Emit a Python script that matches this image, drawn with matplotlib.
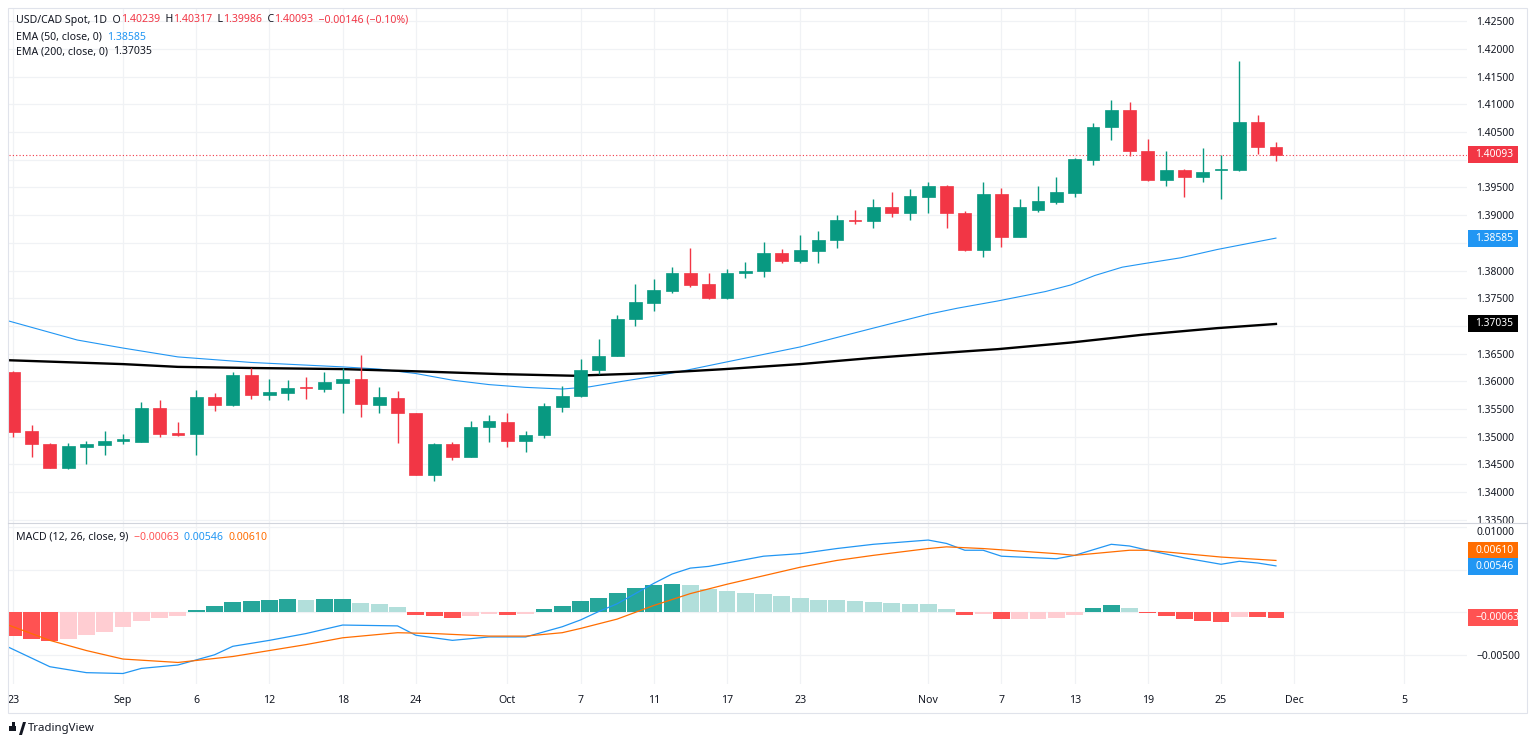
import numpy as np
import matplotlib.pyplot as plt
from matplotlib.patches import Rectangle
from matplotlib.transforms import blended_transform_factory

plt.rcParams['font.family'] = ['Noto Sans', 'DejaVu Sans']

## daily candles, Aug 23 .. Nov 28 (trading days only)
opens = [1.3616, 1.3510, 1.3487, 1.3443, 1.3482, 1.3485, 1.3493, 1.3491, 1.3551, 1.3507,
         1.3504, 1.3572, 1.3557, 1.3611, 1.3575, 1.3578, 1.3589, 1.3586, 1.3597, 1.3604,
         1.3557, 1.3570, 1.3542, 1.3431, 1.3486, 1.3464, 1.3518, 1.3526, 1.3492, 1.3503,
         1.3554, 1.3573, 1.3620, 1.3646, 1.3712, 1.3741, 1.3763, 1.3796, 1.3775, 1.3750,
         1.3796, 1.3799, 1.3832, 1.3818, 1.3835, 1.3855, 1.3892, 1.3890, 1.3915, 1.3903,
         1.3933, 1.3953, 1.3903, 1.3837, 1.3939, 1.3861, 1.3910, 1.3924, 1.3940, 1.4000,
         1.4059, 1.4090, 1.4015, 1.3964, 1.3982, 1.3968, 1.3982, 1.3982, 1.4068, 1.40239]
highs = [1.3618, 1.3521, 1.3489, 1.3489, 1.3492, 1.3510, 1.3504, 1.3563, 1.3566, 1.3526,
         1.3584, 1.3578, 1.3616, 1.3624, 1.3604, 1.3602, 1.3608, 1.3617, 1.3624, 1.3648,
         1.3590, 1.3583, 1.3543, 1.3488, 1.3490, 1.3528, 1.3540, 1.3542, 1.3510, 1.3560,
         1.3592, 1.3640, 1.3676, 1.3719, 1.3776, 1.3785, 1.3806, 1.3840, 1.3795, 1.3803,
         1.3815, 1.3852, 1.3838, 1.3864, 1.3871, 1.3900, 1.3909, 1.3930, 1.3941, 1.3947,
         1.3960, 1.3955, 1.3907, 1.3960, 1.3949, 1.3930, 1.3953, 1.3969, 1.4004, 1.4066,
         1.4107, 1.4104, 1.4037, 1.4016, 1.3983, 1.4022, 1.4009, 1.4179, 1.4080, 1.40317]
lows = [1.3499, 1.3464, 1.3443, 1.3442, 1.3451, 1.3467, 1.3486, 1.3490, 1.3500, 1.3502,
        1.3467, 1.3547, 1.3556, 1.3568, 1.3566, 1.3566, 1.3568, 1.3581, 1.3542, 1.3535,
        1.3543, 1.3488, 1.3431, 1.3420, 1.3458, 1.3463, 1.3491, 1.3482, 1.3473, 1.3498,
        1.3545, 1.3572, 1.3613, 1.3645, 1.3699, 1.3727, 1.3759, 1.3771, 1.3749, 1.3749,
        1.3787, 1.3789, 1.3814, 1.3814, 1.3814, 1.3840, 1.3884, 1.3877, 1.3897, 1.3891,
        1.3904, 1.3877, 1.3836, 1.3825, 1.3843, 1.3860, 1.3906, 1.3920, 1.3932, 1.3990,
        1.4035, 1.4006, 1.3962, 1.3953, 1.3933, 1.3959, 1.3929, 1.3980, 1.4010, 1.39986]
closes = [1.3509, 1.3486, 1.3443, 1.3483, 1.3486, 1.3493, 1.3495, 1.3551, 1.3505, 1.3503,
          1.3572, 1.3558, 1.3611, 1.3575, 1.3581, 1.3588, 1.3587, 1.3598, 1.3605, 1.3559,
          1.3571, 1.3542, 1.3431, 1.3486, 1.3464, 1.3518, 1.3528, 1.3492, 1.3503, 1.3555,
          1.3574, 1.3620, 1.3646, 1.3712, 1.3743, 1.3764, 1.3796, 1.3774, 1.3750, 1.3796,
          1.3800, 1.3832, 1.3818, 1.3837, 1.3855, 1.3891, 1.3890, 1.3915, 1.3904, 1.3935,
          1.3953, 1.3903, 1.3837, 1.3939, 1.3861, 1.3915, 1.3925, 1.3941, 1.4001, 1.4060,
          1.4090, 1.4015, 1.3964, 1.3981, 1.3968, 1.3978, 1.3984, 1.4068, 1.40239, 1.40093]

## EMA lines (bar index, price)
ema50_x = [-0.26, 3.5, 6, 9, 13, 18, 20, 22, 24, 26, 28, 30, 31.5, 33.3, 35.2, 36.5, 39, 43,
           47, 50, 51.6, 53.8, 56.4, 57.8, 59.1, 60.6, 61.7, 63.8, 65.8, 69]
ema50_y = [1.3709, 1.36745, 1.3660, 1.3644, 1.3634, 1.3626, 1.3622, 1.3614, 1.3602, 1.3594,
           1.3589, 1.3586, 1.3590, 1.3600, 1.3610, 1.3618, 1.3635, 1.3662, 1.3696, 1.3721,
           1.3732, 1.3745, 1.3762, 1.3774, 1.3791, 1.3806, 1.3812, 1.3823, 1.3838, 1.38585]
ema200_x = [-0.26, 6, 9, 13, 18, 22, 26.6, 30.6, 35.2, 38.9, 43, 46.9, 49.8, 53.8, 57.8,
            61.7, 65.8, 69]
ema200_y = [1.3638, 1.3631, 1.3626, 1.3624, 1.3622, 1.3618, 1.3613, 1.3610, 1.3615, 1.3622,
            1.3631, 1.3642, 1.3649, 1.3658, 1.3670, 1.3684, 1.3696, 1.37035]

## MACD (12, 26, 9)
hist = [-0.00279, -0.00311, -0.00334, -0.00311, -0.00267, -0.00228, -0.00173, -0.00102,
        -0.00067, -0.00040, 0.00031, 0.00074, 0.00125, 0.00137, 0.00149, 0.00157, 0.00145,
        0.00157, 0.00158, 0.00109, 0.00101, 0.00062, -0.00028, -0.00047, -0.00071, -0.00047,
        -0.00020, -0.00032, -0.00020, 0.00035, 0.00078, 0.00129, 0.00172, 0.00231, 0.00286,
        0.00318, 0.00337, 0.00318, 0.00278, 0.00251, 0.00231, 0.00219, 0.00192, 0.00168,
        0.00145, 0.00144, 0.00133, 0.00125, 0.00106, 0.00094, 0.00093, 0.00042, -0.00035,
        -0.00025, -0.00079, -0.00077, -0.00076, -0.00067, -0.00028, 0.00047, 0.00086, 0.00055,
        -0.00005, -0.00047, -0.00080, -0.00098, -0.00110, -0.00055, -0.00059, -0.00063]
macd_x = [-0.26, 2, 4, 6, 7, 9, 11, 12, 14, 16, 18, 21, 22, 24, 26, 28, 30, 31, 32, 33, 34,
          35, 36, 37, 38, 39, 41, 43, 45, 47, 50, 51, 52, 53, 54, 57, 58, 60, 61, 62, 64, 66,
          67, 68, 69]
macd_y = [-0.0041, -0.0064, -0.0071, -0.0072, -0.0066, -0.0062, -0.0050, -0.0040, -0.0033,
          -0.0025, -0.0015, -0.0016, -0.0027, -0.0033, -0.0029, -0.0029, -0.0017, -0.0009,
          0.0001, 0.0010, 0.0022, 0.0034, 0.0045, 0.0052, 0.0054, 0.0058, 0.0066, 0.0069,
          0.0075, 0.0080, 0.0085, 0.0081, 0.0073, 0.0073, 0.0066, 0.0063, 0.0067, 0.0080,
          0.0078, 0.0073, 0.0064, 0.00565, 0.0060, 0.0058, 0.00546]
signal_x = [-0.26, 2, 4, 6, 9, 12, 16, 18, 21, 23, 26, 28, 30, 31, 33, 35, 37, 39, 41, 43,
            45, 47, 50, 51, 53, 57, 58, 61, 62, 66, 69]
signal_y = [-0.0015, -0.0033, -0.0045, -0.0055, -0.0059, -0.0052, -0.0038, -0.0030, -0.0024,
            -0.0025, -0.0028, -0.0028, -0.0024, -0.0019, -0.0008, 0.0008, 0.0022, 0.0033,
            0.0043, 0.0053, 0.0061, 0.0067, 0.0075, 0.0077, 0.0075, 0.0069, 0.0067, 0.0073,
            0.0073, 0.0065, 0.0061]

tick_idx = [0, 6, 10, 14, 18, 22, 27, 31, 35, 39, 43, 50, 54, 58, 62, 66, 70, 76]
tick_lbl = ["23", "Sep", "6", "12", "18", "24", "Oct", "7", "11", "17", "23", "Nov",
            "7", "13", "19", "25", "Dec", "5"]

UP, DOWN = '#089981', '#f23645'
TXT, GRID = '#131722', '#f0f2f5'
W, H = 1536, 744

fig = plt.figure(figsize=(W/100, H/100), dpi=100)
L, R = 8.5, 1467
ax = fig.add_axes([L/W, 1-523/H, (R-L)/W, (523-8)/H])
ax2 = fig.add_axes([L/W, 1-684/H, (R-L)/W, (684-523)/H], sharex=ax)
axw = R - L

for a in (ax, ax2):
    for s in a.spines.values():
        s.set_visible(False)
    a.set_xticks(tick_idx)
    a.grid(True, color=GRID, lw=0.9)
    a.set_axisbelow(True)
    a.yaxis.tick_right()
    a.tick_params(axis='y', length=0, pad=6.5, labelsize=7.4, labelcolor=TXT)
    a.tick_params(axis='x', length=0)
ax.tick_params(axis='x', labelbottom=False)
ax2.set_xticklabels(tick_lbl)
ax2.tick_params(axis='x', pad=8, labelsize=7.6, labelcolor=TXT)
ax.set_xlim(-0.257, 79.44)

## candles
x = np.arange(len(opens))
o, h, l, c = map(np.array, (opens, highs, lows, closes))
col = np.where(c >= o, UP, DOWN)
ax.vlines(x, l, h, colors=col, lw=1.0, zorder=3)
body = np.maximum(np.abs(c - o), 0.00018)
ax.bar(x, body, bottom=np.minimum(o, c), width=0.7, color=col, edgecolor=col, lw=0.5, zorder=4)

ax.plot(ema50_x, ema50_y, color='#2196f3', lw=0.8, zorder=2)
ax.plot(ema200_x, ema200_y, color='black', lw=1.7, zorder=2)
ax.axhline(closes[-1], color=DOWN, lw=0.8, ls=(0, (1, 2)), zorder=1)

## price scale: labels that sit under the value tags are left blank, as on the chart
pt = np.round(np.arange(1.335, 1.42501, 0.005), 3)
hidden = (1.370, 1.385, 1.400)
ax.set_yticks(pt)
ax.set_yticklabels(["" if v in hidden else f"{v:.5f}" for v in pt])
ax.set_ylim(1.33441, 1.4274)

## MACD pane
hcol = []
prev = 0.0
for v in hist:
    if v >= 0:
        hcol.append('#26a69a' if v > prev else '#b2dfdb')
    else:
        hcol.append('#ffcdd2' if v > prev else '#ff5252')
    prev = v
ax2.bar(x, hist, width=0.92, color=hcol, zorder=2)
ax2.plot(macd_x, macd_y, color='#2196f3', lw=0.9, zorder=3)
ax2.plot(signal_x, signal_y, color='#ff6d00', lw=0.9, zorder=3)
mt = [-0.005, 0.0, 0.005, 0.01]
ax2.set_yticks(mt)
ax2.set_yticklabels([f"{v:.5f}".replace('-', '\u2212') if v in (-0.005, 0.01) else ""
                     for v in mt])
# the top label hangs just under the pane border, clear of the price scale above
ax2.get_yticklabels()[-1].set_va('top')
ax2.set_ylim(-0.008435, 0.010506)


def axis_tag(a, value, text, color, px_per_unit, shift_px=0.0):
    ## coloured value box on the price scale; shift_px moves it up to keep tags apart
    tr = blended_transform_factory(a.transAxes, a.transData)
    hh = 17 / px_per_unit
    yc = value + shift_px / px_per_unit
    a.add_patch(Rectangle((1 + 1/axw, yc - hh/2), 50/axw, hh, transform=tr, fc=color,
                          ec='none', clip_on=False, zorder=10))
    a.text(1 + 8.5/axw, yc, text, transform=tr, color='white', fontsize=7.4,
           va='center', ha='left', clip_on=False, zorder=11)


axis_tag(ax, closes[-1], f"{closes[-1]:.5f}", DOWN, 5538)
axis_tag(ax, ema50_y[-1], f"{ema50_y[-1]:.5f}", '#2196f3', 5538)
axis_tag(ax, ema200_y[-1], f"{ema200_y[-1]:.5f}", 'black', 5538)
axis_tag(ax2, signal_y[-1], "0.00610", '#ff6d00', 8500, shift_px=9.5)
axis_tag(ax2, macd_y[-1], "0.00546", '#2196f3', 8500, shift_px=-1.0)
axis_tag(ax2, hist[-1], "\u22120.00063", '#ff5252', 8500)

## legends as chained text
rend = fig.canvas.get_renderer()


def chain(x0, y0, parts, size=7.6):
    for s, colr in parts:
        t = fig.text(x0/W, 1-y0/H, s, color=colr, fontsize=size, va='center', ha='left')
        x0 += t.get_window_extent(rend).width


chain(16, 20, [("USD/CAD Spot, 1D  O", TXT), (f"{opens[-1]:.5f}", DOWN), ("  H", TXT),
               (f"{highs[-1]:.5f}", DOWN), ("  L", TXT), (f"{lows[-1]:.5f}", DOWN),
               ("  C", TXT), (f"{closes[-1]:.5f}", DOWN),
               ("  \u22120.00146 (\u22120.10%)", DOWN)])
chain(16, 37, [("EMA (50, close, 0)  ", TXT), (f"{ema50_y[-1]:.5f}", '#2196f3')])
chain(16, 52, [("EMA (200, close, 0)  ", TXT), (f"{ema200_y[-1]:.5f}", TXT)])
chain(16, 537, [("MACD (12, 26, close, 9)  ", TXT), ("\u22120.00063  ", '#ff5252'),
                ("0.00546  ", '#2196f3'), ("0.00610", '#ff6d00')])

## frame and pane separator
fig.add_artist(Rectangle((8/W, 1-713/H), (1527-8)/W, (713-8)/H, transform=fig.transFigure,
                         fill=False, ec='#e0e3eb', lw=0.8))
fig.add_artist(plt.Line2D([8/W, 1527/W], [1-523/H, 1-523/H], transform=fig.transFigure,
                          color='#d1d4dc', lw=0.8))

## TradingView mark
fig.add_artist(Rectangle((9/W, 1-731/H), 7/W, 5/H, transform=fig.transFigure, fc=TXT, ec='none'))
fig.add_artist(Rectangle((12/W, 1-731/H), 3/W, 9/H, transform=fig.transFigure, fc=TXT, ec='none'))
fig.add_artist(plt.Polygon([[19/W, 1-735/H], [22/W, 1-735/H], [26/W, 1-722/H], [23/W, 1-722/H]],
                           closed=True, transform=fig.transFigure, fc=TXT, ec='none'))
fig.text(28/W, 1-728/H, "TradingView", fontsize=8.2, fontweight='semibold', color=TXT,
         va='center', ha='left')

fig.savefig('out.png', dpi=100, facecolor='white')
